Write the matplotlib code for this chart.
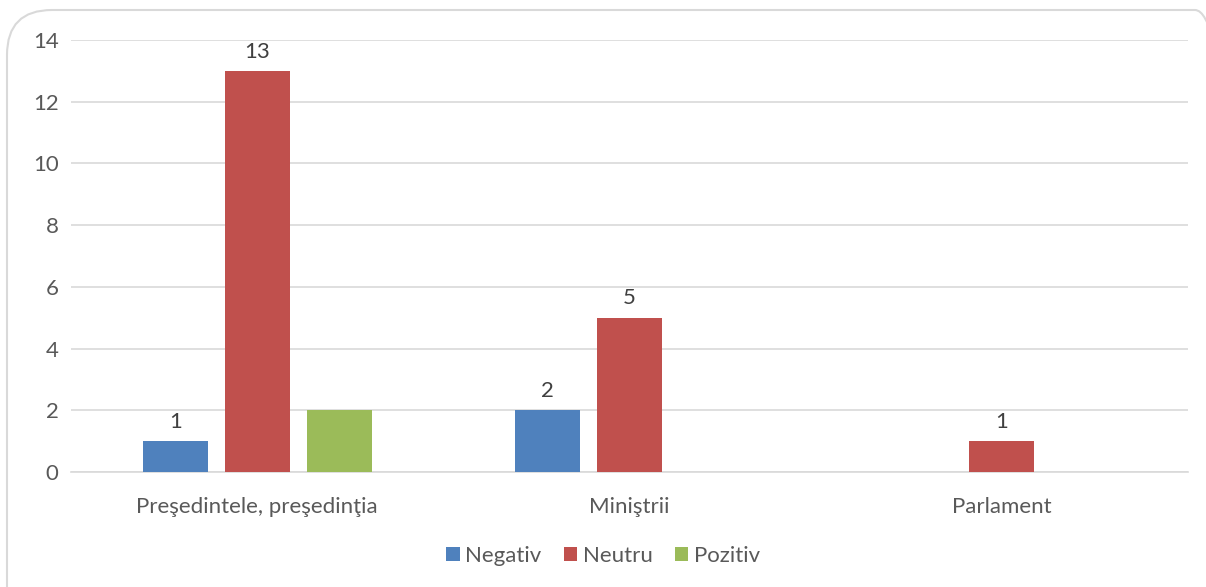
import numpy as np
import matplotlib.pyplot as plt
from matplotlib.patches import FancyBboxPatch

categories = ["Preşedintele, preşedinţia", "Miniştrii", "Parlament"]
negativ = [1, 2, 0]
neutru = [13, 5, 1]
pozitiv = [2, 0, 0]
series_names = ["Negativ", "Neutru", "Pozitiv"]
colors = ["#4f81bd", "#c0504d", "#9bbb59"]
# which series show data labels (the green one has none in the original)
show_labels = [True, True, False]

plt.rcParams['font.family'] = ['Lato', 'DejaVu Sans']
txt = "#595959"
fs = 16

fig = plt.figure(figsize=(12.06, 5.87), dpi=100)
ax = fig.add_axes([71/1206, 1-472/587, (1188-71)/1206, (472-40)/587])

# rounded chart-area frame, in pixel units so the corners stay circular
border = FancyBboxPatch((7, -60), 1240 - 7, 587 - 10 + 60,
                        boxstyle="round,pad=0,rounding_size=45",
                        transform=None, facecolor="none",
                        edgecolor="#d9d9d9", linewidth=1.5, zorder=0)
fig.patches.append(border)

x = np.arange(len(categories))
w = 0.175
offs = [-0.22, 0, 0.22]
for vals, name, c, off, lab in zip([negativ, neutru, pozitiv], series_names, colors, offs, show_labels):
    bars = ax.bar(x + off, vals, w, color=c, label=name, zorder=3)
    if lab:
        for b, v in zip(bars, vals):
            if v:
                ax.text(b.get_x() + b.get_width()/2, v + 0.3, str(v), ha='center',
                        va='bottom', fontsize=fs, color="#404040")

ax.set_xlim(-0.5, 2.5)
ax.set_ylim(0, 14)
ax.set_yticks(range(0, 15, 2))
ax.set_xticks(x)
ax.set_xticklabels(categories)
ax.yaxis.grid(True, color="#d9d9d9", linewidth=1.2, zorder=0)
ax.tick_params(axis='both', length=0, labelsize=fs, labelcolor=txt)
ax.tick_params(axis='x', pad=18)
ax.tick_params(axis='y', pad=9)
for s in ["top", "right", "left"]:
    ax.spines[s].set_visible(False)
ax.spines["bottom"].set_color("#d9d9d9")
ax.spines["bottom"].set_linewidth(1.2)

fig.legend(loc='center', bbox_to_anchor=(0.5, 1-556/587), ncol=3, frameon=False,
           fontsize=fs, labelcolor=txt, handlelength=0.6, handleheight=0.6,
           handletextpad=0.25, columnspacing=1.0)

fig.savefig("out.png", dpi=100)
